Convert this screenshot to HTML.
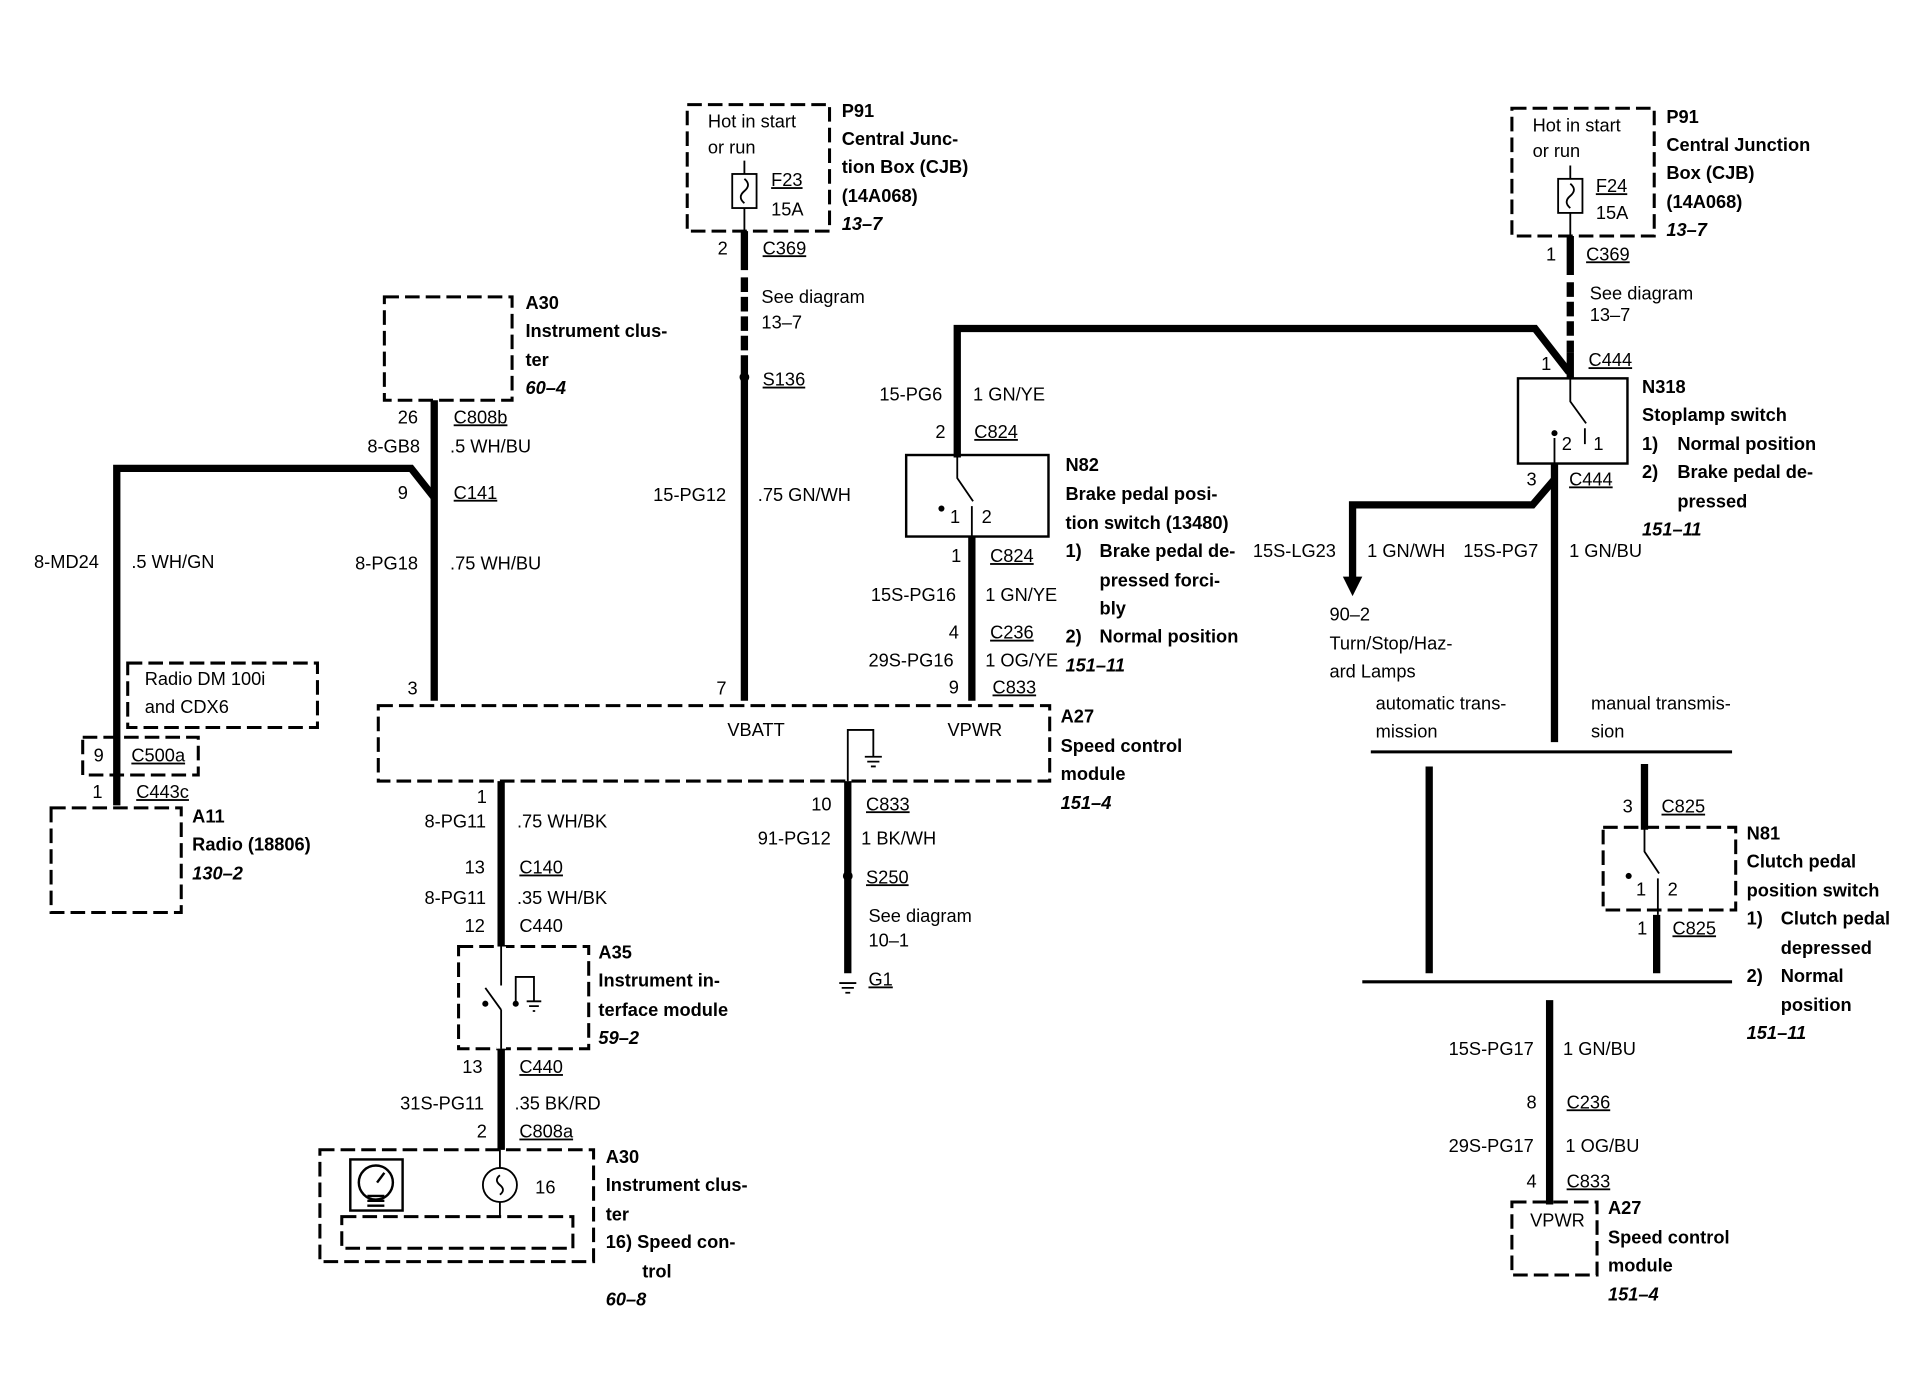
<!DOCTYPE html>
<html><head><meta charset="utf-8"><style>
html,body{margin:0;padding:0;background:#fff;}
svg{display:block}
text{font-family:"Liberation Sans",sans-serif;font-size:15px;fill:#000}
.b{font-weight:bold}
.i{font-weight:bold;font-style:italic}
.d{fill:none;stroke:#000;stroke-width:2.5;stroke-dasharray:12 5}
.w{fill:none;stroke:#000;stroke-width:6}
.t{fill:none;stroke:#000;stroke-width:1.5}
.u{text-decoration:underline}
</style></head><body>
<svg width="1906" height="1376" viewBox="0 0 1567 1131" preserveAspectRatio="none" xmlns="http://www.w3.org/2000/svg">
<!-- Left P91 -->
<rect class="d" x="565" y="86" width="117" height="104"/>
<text x="582" y="105">Hot in start</text><text x="582" y="126">or run</text>
<rect class="t" x="602" y="143" width="20" height="28"/>
<path class="t" d="M612 132 V143 M612 171 V190 M612 147 q6 5 0 10 q-6 5 0 10"/>
<text x="634" y="153" class="u">F23</text><text x="634" y="177">15A</text>
<text x="692" y="96" class="b">P91</text><text x="692" y="119" class="b">Central Junc-</text><text x="692" y="142" class="b">tion Box (CJB)</text><text x="692" y="166" class="b">(14A068)</text><text x="692" y="189" class="i">13–7</text>
<path class="w" d="M612 190 V222"/><path class="w" d="M612 228 V300" stroke-dasharray="12 4"/><path class="w" d="M612 300 V576"/>
<circle cx="612" cy="310" r="4"/>
<text x="590" y="209">2</text><text x="627" y="209" class="u">C369</text>
<text x="626" y="249">See diagram</text><text x="626" y="270">13–7</text>
<text x="627" y="317" class="u">S136</text>
<text x="537" y="412">15-PG12</text><text x="623" y="412">.75 GN/WH</text>
<text x="589" y="571">7</text>
<!-- A30 top -->
<rect class="d" x="316" y="244" width="105" height="85"/>
<text x="432" y="254" class="b">A30</text><text x="432" y="277" class="b">Instrument clus-</text><text x="432" y="301" class="b">ter</text><text x="432" y="324" class="i">60–4</text>
<path class="w" d="M357 329 V576"/>
<text x="327" y="348">26</text><text x="373" y="348" class="u">C808b</text>
<text x="302" y="372">8-GB8</text><text x="370" y="372">.5 WH/BU</text>
<text x="327" y="410">9</text><text x="373" y="410" class="u">C141</text>
<text x="292" y="468">8-PG18</text><text x="370" y="468">.75 WH/BU</text>
<text x="335" y="571">3</text>
<path class="w" d="M357 409 L338 385 H96 V662"/>
<text x="28" y="467">8-MD24</text><text x="108" y="467">.5 WH/GN</text>
<rect class="d" x="105" y="545" width="156" height="53"/>
<text x="119" y="563">Radio DM 100i</text><text x="119" y="586">and CDX6</text>
<rect class="d" x="68" y="606" width="95" height="31"/>
<text x="77" y="626">9</text><text x="108" y="626" class="u">C500a</text>
<text x="76" y="656">1</text><text x="112" y="656" class="u">C443c</text>
<rect class="d" x="42" y="664" width="107" height="86"/>
<text x="158" y="676" class="b">A11</text><text x="158" y="699" class="b">Radio (18806)</text><text x="158" y="723" class="i">130–2</text>
<!-- A27 -->
<rect class="d" x="311" y="580" width="552" height="62"/>
<text x="598" y="605">VBATT</text><text x="779" y="605">VPWR</text>
<text x="872" y="594" class="b">A27</text><text x="872" y="618" class="b">Speed control</text><text x="872" y="641" class="b">module</text><text x="872" y="665" class="i">151–4</text>
<path class="t" d="M697 642 V600 H718 V622 M711 622 H725 M713 626 H723 M716 630 H720"/>
<!-- column below A27 -->
<path class="w" d="M412 642 V945"/>
<text x="392" y="660">1</text><text x="349" y="680">8-PG11</text><text x="425" y="680">.75 WH/BK</text>
<text x="382" y="718">13</text><text x="427" y="718" class="u">C140</text>
<text x="349" y="743">8-PG11</text><text x="425" y="743">.35 WH/BK</text>
<text x="382" y="766">12</text><text x="427" y="766">C440</text>
<rect class="d" x="377" y="778" width="107" height="84"/>
<rect x="408" y="778" width="8" height="84" fill="#fff"/>
<path class="t" d="M412 778 V810 M412 830 V862 M412 830 L399 812 M424 823 V803 H439 V823 M433 823 H445 M435 827 H443 M438 831 H440"/>
<circle cx="399" cy="825" r="2.5"/><circle cx="424" cy="825" r="2.5"/>
<path class="w" d="M412 862 V945"/>
<text x="492" y="788" class="b">A35</text><text x="492" y="811" class="b">Instrument in-</text><text x="492" y="835" class="b">terface module</text><text x="492" y="858" class="i">59–2</text>
<text x="380" y="882">13</text><text x="427" y="882" class="u">C440</text>
<text x="329" y="912">31S-PG11</text><text x="423" y="912">.35 BK/RD</text>
<text x="392" y="935">2</text><text x="427" y="935" class="u">C808a</text>
<rect class="d" x="263" y="945" width="225" height="92"/>
<rect class="d" x="281" y="1000" width="190" height="26"/>
<path class="t" d="M411 945 V960 M411 988 V1000"/><circle class="t" cx="411" cy="974" r="14"/>
<path class="t" d="M411 966 q-5 4 0 8 q5 4 0 8"/>
<text x="440" y="981">16</text>
<rect x="288" y="953" width="43" height="42" fill="none" stroke="#000" stroke-width="2"/>
<circle cx="309" cy="972" r="14" fill="none" stroke="#000" stroke-width="2"/>
<path d="M302 983 h14 M302 987 h14 M302 991 h14 M310 972 l6 -8" stroke="#000" stroke-width="2"/>
<text x="498" y="956" class="b">A30</text><text x="498" y="979" class="b">Instrument clus-</text><text x="498" y="1003" class="b">ter</text><text x="498" y="1026" class="b">16) Speed con-</text><text x="528" y="1050" class="b">trol</text><text x="498" y="1073" class="i">60–8</text>
<!-- ground wire -->
<path class="w" d="M697 642 V800"/>
<circle cx="697" cy="720" r="4"/>
<path class="t" d="M690 808 H704 M692 812 H702 M695 816 H699"/>
<text x="667" y="666">10</text><text x="712" y="666" class="u">C833</text>
<text x="623" y="694">91-PG12</text><text x="708" y="694">1 BK/WH</text>
<text x="712" y="726" class="u">S250</text>
<text x="714" y="758">See diagram</text><text x="714" y="778">10–1</text>
<text x="714" y="810" class="u">G1</text>
<!-- N82 -->
<path class="w" d="M787 376 V270 H1262 L1290 306"/>
<text x="723" y="329">15-PG6</text><text x="800" y="329">1 GN/YE</text>
<text x="769" y="360">2</text><text x="801" y="360" class="u">C824</text>
<rect x="745" y="374" width="117" height="67" fill="none" stroke="#000" stroke-width="2"/>
<path class="t" d="M787 374 V393 L800 412 M799 416 V441"/><circle cx="774" cy="418" r="2.5"/>
<text x="781" y="430">1</text><text x="807" y="430">2</text>
<path class="w" d="M799 441 V576"/>
<text x="876" y="387" class="b">N82</text><text x="876" y="411" class="b">Brake pedal posi-</text><text x="876" y="435" class="b">tion switch (13480)</text>
<text x="876" y="458" class="b">1)</text><text x="904" y="458" class="b">Brake pedal de-</text><text x="904" y="482" class="b">pressed forci-</text><text x="904" y="505" class="b">bly</text>
<text x="876" y="528" class="b">2)</text><text x="904" y="528" class="b">Normal position</text>
<text x="876" y="552" class="i">151–11</text>
<text x="782" y="462">1</text><text x="814" y="462" class="u">C824</text>
<text x="716" y="494">15S-PG16</text><text x="810" y="494">1 GN/YE</text>
<text x="780" y="525">4</text><text x="814" y="525" class="u">C236</text>
<text x="714" y="548">29S-PG16</text><text x="810" y="548">1 OG/YE</text>
<text x="780" y="570">9</text><text x="816" y="570" class="u">C833</text>
<!-- Right P91 -->
<rect class="d" x="1243" y="89" width="117" height="105"/>
<text x="1260" y="108">Hot in start</text><text x="1260" y="129">or run</text>
<rect class="t" x="1281" y="147" width="20" height="28"/>
<path class="t" d="M1291 136 V147 M1291 175 V194 M1291 151 q6 5 0 10 q-6 5 0 10"/>
<text x="1312" y="158" class="u">F24</text><text x="1312" y="180">15A</text>
<text x="1370" y="101" class="b">P91</text><text x="1370" y="124" class="b">Central Junction</text><text x="1370" y="147" class="b">Box (CJB)</text><text x="1370" y="171" class="b">(14A068)</text><text x="1370" y="194" class="i">13–7</text>
<path class="w" d="M1291 194 V226"/><path class="w" d="M1291 232 V290" stroke-dasharray="12 4"/><path class="w" d="M1291 290 V311"/>
<text x="1271" y="214">1</text><text x="1304" y="214" class="u">C369</text>
<text x="1307" y="246">See diagram</text><text x="1307" y="264">13–7</text>
<text x="1267" y="304">1</text><text x="1306" y="301" class="u">C444</text>
<rect x="1248" y="311" width="90" height="70" fill="none" stroke="#000" stroke-width="2"/>
<path class="t" d="M1291 311 V330 L1304 348 M1303 352 V365 M1278 360 V381"/><circle cx="1278" cy="356" r="2.5"/>
<text x="1284" y="370">2</text><text x="1310" y="370">1</text>
<text x="1350" y="323" class="b">N318</text><text x="1350" y="346" class="b">Stoplamp switch</text>
<text x="1350" y="370" class="b">1)</text><text x="1379" y="370" class="b">Normal position</text>
<text x="1350" y="393" class="b">2)</text><text x="1379" y="393" class="b">Brake pedal de-</text><text x="1379" y="417" class="b">pressed</text>
<text x="1350" y="440" class="i">151–11</text>
<text x="1255" y="399">3</text><text x="1290" y="399" class="u">C444</text>
<path class="w" d="M1278 381 V610"/>
<path class="w" d="M1278 394 L1260 415 H1112 V478"/>
<path d="M1104 474 L1120 474 L1112 490 Z"/>
<text x="1030" y="458">15S-LG23</text><text x="1124" y="458">1 GN/WH</text>
<text x="1203" y="458">15S-PG7</text><text x="1290" y="458">1 GN/BU</text>
<text x="1093" y="510">90–2</text><text x="1093" y="534">Turn/Stop/Haz-</text><text x="1093" y="557">ard Lamps</text>
<text x="1131" y="583">automatic trans-</text><text x="1131" y="606">mission</text>
<text x="1308" y="583">manual transmis-</text><text x="1308" y="606">sion</text>
<path d="M1127 618 H1424" stroke="#000" stroke-width="2.5"/>
<path d="M1120 807 H1424" stroke="#000" stroke-width="2.5"/>
<path class="w" d="M1175 630 V800"/>
<path class="w" d="M1352 628 V682"/><path class="w" d="M1362 752 V800"/>
<rect class="d" x="1318" y="680" width="109" height="68"/>
<path class="t" d="M1352 680 V700 L1364 718 M1363 722 V752"/><circle cx="1339" cy="720" r="2.5"/>
<text x="1345" y="736">1</text><text x="1371" y="736">2</text>
<text x="1334" y="668">3</text><text x="1366" y="668" class="u">C825</text>
<text x="1346" y="768">1</text><text x="1375" y="768" class="u">C825</text>
<text x="1436" y="690" class="b">N81</text><text x="1436" y="713" class="b">Clutch pedal</text><text x="1436" y="737" class="b">position switch</text>
<text x="1436" y="760" class="b">1)</text><text x="1464" y="760" class="b">Clutch pedal</text><text x="1464" y="784" class="b">depressed</text>
<text x="1436" y="807" class="b">2)</text><text x="1464" y="807" class="b">Normal</text><text x="1464" y="831" class="b">position</text>
<text x="1436" y="854" class="i">151–11</text>
<path class="w" d="M1274 822 V990"/>
<text x="1191" y="867">15S-PG17</text><text x="1285" y="867">1 GN/BU</text>
<text x="1255" y="911">8</text><text x="1288" y="911" class="u">C236</text>
<text x="1191" y="947">29S-PG17</text><text x="1287" y="947">1 OG/BU</text>
<text x="1255" y="976">4</text><text x="1288" y="976" class="u">C833</text>
<rect class="d" x="1243" y="988" width="70" height="60"/>
<text x="1258" y="1008">VPWR</text>
<text x="1322" y="998" class="b">A27</text><text x="1322" y="1022" class="b">Speed control</text><text x="1322" y="1045" class="b">module</text><text x="1322" y="1069" class="i">151–4</text>
</svg>
</body></html>
